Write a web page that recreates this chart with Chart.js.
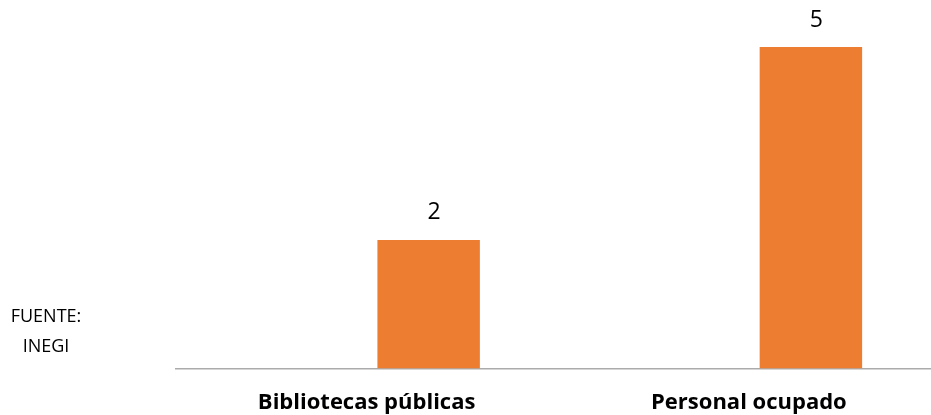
<!DOCTYPE html>
<html><head><meta charset="utf-8">
<script src="https://cdn.jsdelivr.net/npm/chart.js@4/dist/chart.umd.min.js"></script>
<style>
html,body{margin:0;padding:0;background:#fff;overflow:hidden;}
#wrap{position:relative;width:931px;height:415px;overflow:hidden;}
#c{position:absolute;left:0;top:0;}
#src{position:absolute;left:6px;top:300px;width:80px;text-align:center;font-family:"Open Sans",sans-serif;font-size:18px;line-height:30px;color:#000;}
</style></head>
<body><div id="wrap"><canvas id="c" width="940" height="415"></canvas>
<div id="src">FUENTE:<br>INEGI</div></div>
<script>
const categories = ['Bibliotecas públicas', 'Personal ocupado'];
const emptySeries = [null, null];
const values = [2, 5];

const valueLabels = {
  id: 'valueLabels',
  afterDatasetsDraw(chart) {
    const ctx = chart.ctx;
    const meta = chart.getDatasetMeta(1);
    ctx.save();
    ctx.font = '23px "Open Sans", sans-serif';
    ctx.fillStyle = '#000';
    ctx.textAlign = 'center';
    ctx.textBaseline = 'middle';
    meta.data.forEach((bar, i) => {
      ctx.fillText(String(values[i]), bar.x + 5.5, bar.y - 27);
    });
    ctx.restore();
  }
};

new Chart(document.getElementById('c'), {
  type: 'bar',
  data: {
    labels: categories,
    datasets: [
      { data: emptySeries, backgroundColor: '#4472C4' },
      { data: values, backgroundColor: '#ED7D31' }
    ]
  },
  options: {
    responsive: false,
    animation: false,
    layout: { padding: { left: 175.5, right: 0, top: 47, bottom: 0 } },
    datasets: { bar: { categoryPercentage: 0.649, barPercentage: 0.826 } },
    plugins: { legend: { display: false }, tooltip: { enabled: false } },
    scales: {
      x: {
        grid: { display: false },
        border: { color: '#ababab', width: 1.5 },
        ticks: { color: '#000', padding: 13, maxRotation: 0, autoSkip: false,
                 font: { family: '"Open Sans", sans-serif', size: 22, weight: 'bold' } },
        afterFit(scale) { scale.height = 46.5; }
      },
      y: { display: false, min: 0, max: 5 }
    }
  },
  plugins: [valueLabels]
});
</script></body></html>
